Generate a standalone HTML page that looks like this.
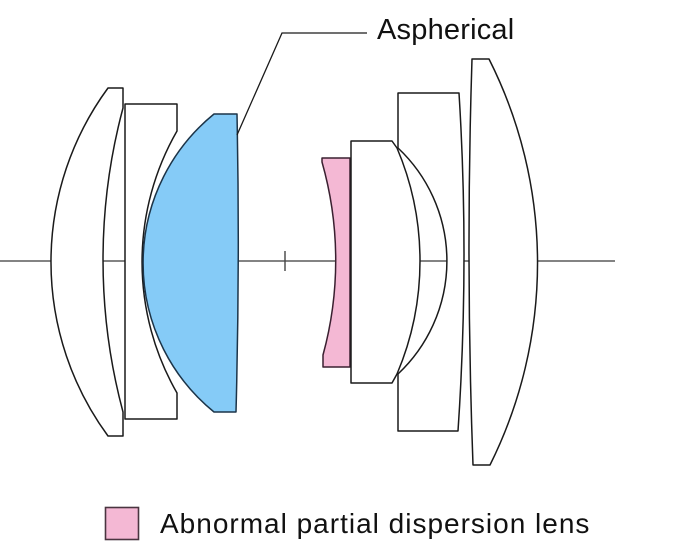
<!DOCTYPE html>
<html>
<head>
<meta charset="utf-8">
<style>
  html, body { margin: 0; padding: 0; background: #ffffff; }
  body { width: 680px; height: 555px; overflow: hidden; position: relative; }
  svg { position: absolute; left: 0; top: 0; }
</style>
</head>
<body>
<svg width="680" height="555" viewBox="0 0 680 555" xmlns="http://www.w3.org/2000/svg">
  <!-- optical axis -->
  <line x1="0" y1="261" x2="615" y2="261" stroke="#5a5a5a" stroke-width="1.4"/>
  <!-- aperture tick -->
  <line x1="285" y1="251" x2="285" y2="271" stroke="#444" stroke-width="1.4"/>

  <g stroke="#1a1a1a" stroke-width="1.5" stroke-linejoin="round" fill="#ffffff">
    <!-- Lens 1 -->
    <path d="M108,88 L123,88 L123,108 A588,588 0 0 0 123,412 L123,436 L108,436 A294,294 0 0 1 108,88 Z"/>
    <!-- Lens 2 -->
    <path d="M125,104 L177,104 L177,131 A263,263 0 0 0 177,393 L177,419 L125,419 Z"/>
    <!-- Lens 3 (aspherical, blue) -->
    <path d="M214,114 L237,114 Q240,261 236,412 L214,412 A192,192 0 0 1 214,114 Z" fill="#85cbf7" stroke="#1c3448"/>
    <!-- Lens 4 (pink) -->
    <path d="M322,158 L350,158 L350,367 L323,367 L323,355 A359,359 0 0 0 322,162 Z" fill="#f4b8d4" stroke="#3a2030"/>
    <!-- Lens 5 -->
    <path d="M351,141 L392,141 L397,148 A289,289 0 0 1 397,374 L392,383 L351,383 Z"/>
    <!-- Lens 6 -->
    <path d="M398,93 L459,93 Q469.5,261 458,431 L398,431 L398,374 A155,155 0 0 0 398,148 Z"/>
    <!-- Lens 7 -->
    <path d="M472,59 L489,59 A453,453 0 0 1 490,465 L473,465 Q465.5,261 472,59 Z"/>
  </g>

  <!-- leader line -->
  <polyline points="237,135 282,33 367,33" fill="none" stroke="#1a1a1a" stroke-width="1.3"/>
  <text x="377" y="39" font-family="Liberation Sans, sans-serif" font-size="29" fill="#111" letter-spacing="0.2">Aspherical</text>

  <!-- legend -->
  <rect x="105.5" y="507.5" width="33" height="32" fill="#f4b8d4" stroke="#4a3540" stroke-width="1.6"/>
  <text x="160" y="533" font-family="Liberation Sans, sans-serif" font-size="28" fill="#111" letter-spacing="1">Abnormal partial dispersion lens</text>
</svg>
</body>
</html>
